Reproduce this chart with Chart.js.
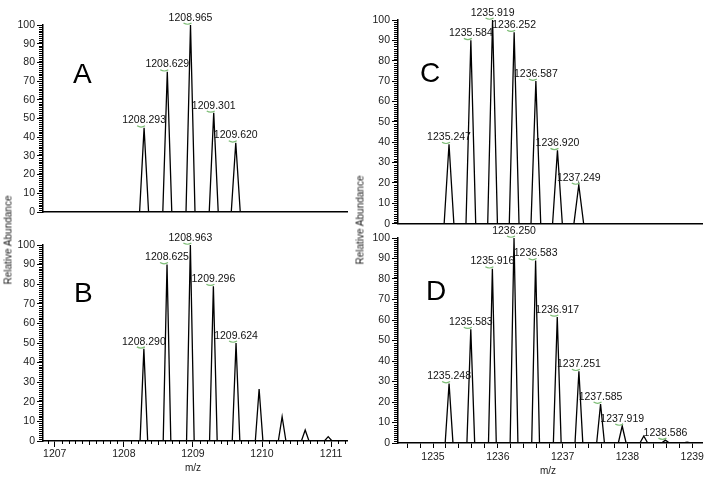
<!DOCTYPE html>
<html>
<head>
<meta charset="utf-8">
<title>Isotope envelopes</title>
<script src="https://cdn.jsdelivr.net/npm/chart.js@4.4.1/dist/chart.umd.min.js"></script>
<style>
	body { margin:0; background:#fff; width:717px; height:489px; position:relative; overflow:hidden; font-family:"Liberation Sans", Arial, sans-serif; }
	canvas { position:absolute; }
	.ytitle { position:absolute; font-size:10px; color:#1a1a1a; white-space:nowrap; transform:translate(-50%,-50%) rotate(-90deg); }
</style>
</head>
<body>

<canvas id="chartA" width="355" height="228" style="left:0;top:0"></canvas>
<canvas id="chartB" width="355" height="261" style="left:0;top:228px"></canvas>
<canvas id="chartC" width="362" height="232" style="left:355px;top:0"></canvas>
<canvas id="chartD" width="362" height="267" style="left:355px;top:222px"></canvas>

<div class="ytitle" style="left:8px;top:240px">Relative Abundance</div>
<div class="ytitle" style="left:360px;top:220px">Relative Abundance</div>

<script type="text/javascript">
	// axis ranges (m/z)
	const rangeAB = [1206.83, 1211.23];
	const rangeCD = [1234.46, 1239.15];

	// tick values
	const yTicks = [0, 10, 20, 30, 40, 50, 60, 70, 80, 90, 100];
	const xTicksAB = [1207, 1208, 1209, 1210, 1211];
	const xTicksCD = [1234.6, 1234.8, 1235, 1235.2, 1235.4, 1235.6, 1235.8, 1236, 1236.2, 1236.4, 1236.6, 1236.8,
		1237, 1237.2, 1237.4, 1237.6, 1237.8, 1238, 1238.2, 1238.4, 1238.6, 1238.8, 1239];

	// panel A
	const mzA = [1208.293, 1208.629, 1208.965, 1209.301, 1209.620];
	const intA = [45, 75, 100, 53, 37];
	const labA = ['1208.293', '1208.629', '1208.965', '1209.301', '1209.620'];

	// panel B
	const mzB = [1208.290, 1208.625, 1208.963, 1209.296, 1209.624, 1209.958, 1210.291, 1210.625, 1210.958];
	const intB = [47, 90, 100, 79, 50, 26.5, 12.4, 5.6, 2.2];
	const labB = ['1208.290', '1208.625', '1208.963', '1209.296', '1209.624', '', '', '', ''];

	// panel C
	const mzC = [1235.247, 1235.584, 1235.919, 1236.252, 1236.587, 1236.920, 1237.249];
	const intC = [39, 90, 100, 94, 70, 36, 19];
	const labC = ['1235.247', '1235.584', '1235.919', '1236.252', '1236.587', '1236.920', '1237.249'];

	// panel D
	const mzD = [1235.248, 1235.583, 1235.916, 1236.250, 1236.583, 1236.917, 1237.251, 1237.585, 1237.919, 1238.252, 1238.586, 1238.920];
	const intD = [29, 55.5, 85, 100, 89, 61.5, 35, 19, 8.3, 3.4, 1.4, 0.4];
	const labD = ['1235.248', '1235.583', '1235.916', '1236.250', '1236.583', '1236.917', '1237.251', '1237.585', '1237.919', '', '1238.586', ''];

	const FONT = '"Liberation Sans", Arial, sans-serif';

	// each peak drawn as a thin triangle on a zero baseline
	function trace(mz, ints, half, range){
		let pts = [{x: range[0], y: 0}];
		for (let i = 0; i < mz.length; i++){
			pts.push({x: mz[i] - half, y: 0});
			pts.push({x: mz[i], y: ints[i]});
			pts.push({x: mz[i] + half, y: 0});
		}
		pts.push({x: range[1], y: 0});
		return pts;
	}

	function makeOverlay(p){
		return {
			id: 'overlay',
			afterDraw(chart){
				const ctx = chart.ctx;
				const x = chart.scales.x, y = chart.scales.y;
				const area = chart.chartArea;
				ctx.save();

				// minor ticks on the y axis
				ctx.strokeStyle = '#000';
				ctx.lineWidth = 1;
				ctx.beginPath();
				for (let v = 1; v < 100; v++){
					if (v % 10 === 0) continue;
					let py = Math.round(y.getPixelForValue(v)) + 0.5;
					ctx.moveTo(area.left - 4, py);
					ctx.lineTo(area.left, py);
				}
				ctx.stroke();

				// minor ticks on the x axis (panel B only)
				if (p.xMinor){
					ctx.beginPath();
					for (let k = Math.ceil(x.min * 10); k <= Math.floor(x.max * 10); k++){
						if (k % 10 === 0) continue;
						let px = Math.round(x.getPixelForValue(k / 10)) + 0.5;
						ctx.moveTo(px, area.bottom);
						ctx.lineTo(px, area.bottom + (k % 5 === 0 ? 4 : 3));
					}
					ctx.stroke();
				}

				// peak labels with the small green marks
				ctx.font = '10.5px ' + FONT;
				ctx.textAlign = 'center';
				ctx.textBaseline = 'bottom';
				for (let i = 0; i < p.mz.length; i++){
					if (!p.lab[i]) continue;
					let px = x.getPixelForValue(p.mz[i]);
					let py = y.getPixelForValue(p.ints[i]);
					ctx.strokeStyle = '#7dbd76';
					ctx.lineWidth = 1.2;
					ctx.beginPath();
					ctx.moveTo(px - 7, py - 2);
					ctx.quadraticCurveTo(px - 3, py + 0.5, px + 1, py - 2);
					ctx.stroke();
					ctx.fillStyle = '#111';
					ctx.fillText(p.lab[i], px, py - 2);
				}

				// panel letter
				ctx.font = '28px ' + FONT;
				ctx.textAlign = 'left';
				ctx.textBaseline = 'alphabetic';
				ctx.fillStyle = '#000';
				ctx.fillText(p.letter, area.left + p.letterPos[0], area.top + p.letterPos[1]);

				// x title
				if (p.xTitle){
					ctx.font = '10px ' + FONT;
					ctx.textAlign = 'center';
					ctx.textBaseline = 'middle';
					ctx.fillStyle = '#1a1a1a';
					ctx.fillText('m/z', (area.left + area.right) / 2 - 2, area.bottom + p.xTitleDy);
				}
				ctx.restore();
			}
		};
	}

	function panel(id, p){
		let ctx = document.getElementById(id);
		new Chart(ctx, {
			type: 'scatter',
			data: {
				datasets: [{
					data: trace(p.mz, p.ints, p.half, p.range),
					showLine: true,
					borderColor: '#000',
					borderWidth: 1.3,
					pointRadius: 0,
					tension: 0
				}]
			},
			options: {
				responsive: false,
				animation: false,
				devicePixelRatio: 1,
				layout: { padding: p.pad },
				plugins: { legend: { display: false }, tooltip: { enabled: false } },
				scales: {
					x: {
						type: 'linear',
						min: p.range[0],
						max: p.range[1],
						afterBuildTicks: s => { s.ticks = p.xTicks.map(v => ({value: v})); },
						afterFit: s => { s.height = p.xHeight; },
						ticks: {
							display: p.xLabels,
							autoSkip: false,
							maxRotation: 0,
							padding: p.xPad,
							color: '#1a1a1a',
							font: { family: FONT, size: 10.5 },
							callback: v => Math.abs(v - Math.round(v)) < 1e-6 ? String(Math.round(v)) : ''
						},
						grid: { drawOnChartArea: false, drawTicks: p.xLabels, tickLength: p.xTickLen, color: '#000' },
						border: { color: '#000', width: 1.5 }
					},
					y: {
						min: 0,
						max: 100,
						afterBuildTicks: s => { s.ticks = yTicks.map(v => ({value: v})); },
						afterFit: s => { s.width = 43; },
						ticks: { autoSkip: false, padding: 2, color: '#1a1a1a', font: { family: FONT, size: 10.5 } },
						grid: { drawOnChartArea: false, tickLength: 6, color: '#000' },
						border: { color: '#000', width: 1.5 }
					}
				}
			},
			plugins: [makeOverlay(p)]
		});
	}

	panel('chartA', { mz: mzA, ints: intA, lab: labA, half: 0.065, range: rangeAB, xTicks: xTicksAB,
		xLabels: false, xHeight: 16, xPad: 0, xTickLen: 0, xMinor: false, xTitle: false,
		pad: {top: 25, right: 8, left: 0, bottom: 0}, letter: 'A', letterPos: [30, 58] });

	panel('chartB', { mz: mzB, ints: intB, lab: labB, half: 0.055, range: rangeAB, xTicks: xTicksAB,
		xLabels: true, xHeight: 48, xPad: 1, xTickLen: 6, xMinor: true, xTitle: true, xTitleDy: 27,
		pad: {top: 17, right: 8, left: 0, bottom: 0}, letter: 'B', letterPos: [31, 57] });

	panel('chartC', { mz: mzC, ints: intC, lab: labC, half: 0.075, range: rangeCD, xTicks: xTicksCD,
		xLabels: false, xHeight: 8, xPad: 0, xTickLen: 0, xMinor: false, xTitle: false,
		pad: {top: 20, right: 15, left: 0, bottom: 0}, letter: 'C', letterPos: [22, 62] });

	panel('chartD', { mz: mzD, ints: intD, lab: labD, half: 0.06, range: rangeCD, xTicks: xTicksCD,
		xLabels: true, xHeight: 46, xPad: 3, xTickLen: 5, xMinor: false, xTitle: true, xTitleDy: 28,
		pad: {top: 16, right: 15, left: 0, bottom: 0}, letter: 'D', letterPos: [28, 62] });
</script>

</body>
</html>
